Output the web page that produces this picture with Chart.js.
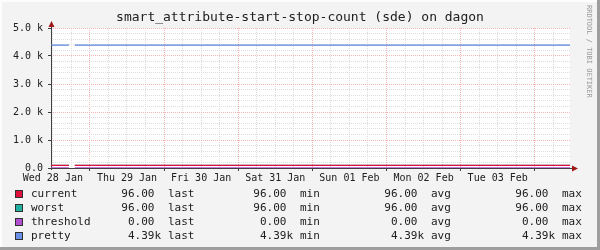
<!DOCTYPE html>
<html>
<head>
<meta charset="utf-8">
<script src="https://cdn.jsdelivr.net/npm/chart.js@4"></script>
<style>
  html, body { margin: 0; padding: 0; background: #f3f3f3; }
  canvas { display: block; }
</style>
</head>
<body>
<canvas id="rrd" width="600" height="250"></canvas>
<script>
// time in hours since Wed 28 Jan 00:00, one week window
const hours     = [11.4, 17.2, 18.2, 19.1, 179.4];
const current   = [96, 96, null, 96, 96];
const worst     = [96, 96, null, 96, 96];
const threshold = [0, 0, null, 0, 0];
const pretty    = [4390, 4390, null, 4390, 4390];

const dayLabels = ['Wed 28 Jan', 'Thu 29 Jan', 'Fri 30 Jan', 'Sat 31 Jan', 'Sun 01 Feb', 'Mon 02 Feb', 'Tue 03 Feb'];
const seriesNames  = ['current', 'worst', 'threshold', 'pretty'];
const seriesColors = ['#e0103c', '#20b0a0', '#b050d0', '#6a90e8'];
const lastVals = [96, 96, 0, 4390];
const minVals  = [96, 96, 0, 4390];
const avgVals  = [96, 96, 0, 4390];
const maxVals  = [96, 96, 0, 4390];

const MONO = '"DejaVu Sans Mono", monospace';
const pts = arr => hours.map((h, i) => ({ x: h, y: arr[i] }));
const fmt = v => v >= 1000 ? (v / 1000).toFixed(2) + 'k' : v.toFixed(2) + ' ';

const rrdLook = {
  id: 'rrdLook',
  beforeDraw(chart) {
    const { ctx, chartArea: a, width, height } = chart;
    ctx.save();
    ctx.fillStyle = '#f3f3f3';
    ctx.fillRect(0, 0, width, height);
    ctx.fillStyle = '#fdfdfd';
    ctx.fillRect(0, 0, width, 2);
    ctx.fillRect(0, 0, 2, height);
    ctx.fillStyle = '#9e9e9e';
    ctx.fillRect(width - 3, 0, 3, height);
    ctx.fillRect(0, height - 3, width, 3);
    ctx.fillStyle = '#ffffff';
    ctx.fillRect(a.left, a.top, a.right - a.left, a.bottom - a.top);
    ctx.restore();
  },
  beforeDatasetsDraw(chart) {
    const { ctx, chartArea: a } = chart;
    ctx.save();
    // axes
    ctx.strokeStyle = '#404040';
    ctx.lineWidth = 1;
    ctx.beginPath();
    ctx.moveTo(a.left + 0.5, a.bottom + 2);
    ctx.lineTo(a.left + 0.5, a.top - 5);
    ctx.moveTo(a.left - 2, a.bottom + 0.5);
    ctx.lineTo(a.right + 5, a.bottom + 0.5);
    ctx.stroke();
    // arrows
    ctx.fillStyle = '#a01818';
    ctx.beginPath();
    ctx.moveTo(a.left + 0.5, a.top - 7);
    ctx.lineTo(a.left - 2.5, a.top - 1);
    ctx.lineTo(a.left + 3.5, a.top - 1);
    ctx.closePath();
    ctx.fill();
    ctx.beginPath();
    ctx.moveTo(a.right + 8, a.bottom + 0.5);
    ctx.lineTo(a.right + 2, a.bottom - 2.5);
    ctx.lineTo(a.right + 2, a.bottom + 3.5);
    ctx.closePath();
    ctx.fill();
    ctx.restore();
  },
  afterDraw(chart) {
    const { ctx, width } = chart;
    ctx.save();
    // title
    ctx.fillStyle = '#202020';
    ctx.font = '13px ' + MONO;
    ctx.textAlign = 'center';
    ctx.textBaseline = 'middle';
    ctx.fillText('smart_attribute-start-stop-count (sde) on dagon', width / 2, 18);
    // watermark
    ctx.save();
    ctx.translate(589, 5);
    ctx.rotate(Math.PI / 2);
    ctx.fillStyle = '#999999';
    ctx.font = '7px ' + MONO;
    ctx.textAlign = 'left';
    ctx.fillText('RRDTOOL / TOBI OETIKER', 0, 0);
    ctx.restore();
    // legend
    ctx.font = '11px ' + MONO;
    ctx.textBaseline = 'middle';
    seriesNames.forEach((name, i) => {
      const y = 194 + i * 14;
      ctx.fillStyle = seriesColors[i];
      ctx.fillRect(15, y - 4, 8, 8);
      ctx.strokeStyle = '#303030';
      ctx.strokeRect(15.5, y - 3.5, 7, 7);
      ctx.fillStyle = '#202020';
      ctx.textAlign = 'left';
      ctx.fillText(name, 31, y);
      const cols = [lastVals[i], minVals[i], avgVals[i], maxVals[i]];
      const words = ['last', 'min', 'avg', 'max'];
      const rights = [161, 293, 424, 555];
      cols.forEach((v, k) => {
        ctx.textAlign = 'right';
        ctx.fillText(fmt(v), rights[k], y);
        ctx.textAlign = 'left';
        ctx.fillText(words[k], rights[k] + 7, y);
      });
    });
    ctx.restore();
  }
};

const line = (label, data, color) => ({
  label,
  data: pts(data),
  borderColor: color,
  backgroundColor: color,
  borderWidth: 1.3,
  pointRadius: 0,
  spanGaps: false,
  tension: 0
});

new Chart(document.getElementById('rrd').getContext('2d'), {
  type: 'line',
  data: {
    datasets: [
      line('current', current, seriesColors[0]),
      line('worst', worst, seriesColors[1]),
      line('threshold', threshold, seriesColors[2]),
      line('pretty', pretty, '#5a84d8')
    ]
  },
  options: {
    responsive: false,
    animation: false,
    devicePixelRatio: 1,
    layout: { padding: { left: 0, top: 28, right: 30, bottom: 62 } },
    plugins: {
      legend: { display: false },
      title: { display: false },
      tooltip: { enabled: false }
    },
    scales: {
      x: {
        type: 'linear',
        min: hours[0],
        max: hours[hours.length - 1],
        afterBuildTicks(scale) {
          const t = [];
          for (let h = 12; h <= scale.max; h += 6) t.push({ value: h });
          scale.ticks = t;
        },
        afterFit(scale) { scale.height = 20; },
        border: { display: false, dash: [1, 1] },
        grid: {
          color: c => c.tick && c.tick.value % 24 === 0 ? '#f6b4b4' : '#dcdcdc',
          tickColor: c => c.tick && c.tick.value % 24 === 0 ? '#404040' : 'transparent',
          tickLength: 3,
          lineWidth: 1
        },
        ticks: {
          autoSkip: false,
          maxRotation: 0,
          padding: 1,
          color: '#202020',
          font: { family: MONO, size: 10 },
          callback: v => v % 24 === 12 ? dayLabels[(v - 12) / 24] : ''
        }
      },
      y: {
        min: 0,
        max: 5000,
        afterFit(scale) { scale.width = 51; },
        border: { display: false, dash: [1, 1] },
        grid: {
          color: c => c.tick && c.tick.value % 1000 === 0 ? '#f6b4b4' : '#dcdcdc',
          tickColor: c => c.tick && c.tick.value % 1000 === 0 ? '#404040' : 'transparent',
          tickLength: 3,
          lineWidth: 1
        },
        ticks: {
          stepSize: 200,
          autoSkip: false,
          padding: 5,
          color: '#202020',
          font: { family: MONO, size: 10 },
          callback: v => v % 1000 === 0 ? (v === 0 ? '0.0' : (v / 1000).toFixed(1) + ' k') : ''
        }
      }
    }
  },
  plugins: [rrdLook]
});
</script>
</body>
</html>
